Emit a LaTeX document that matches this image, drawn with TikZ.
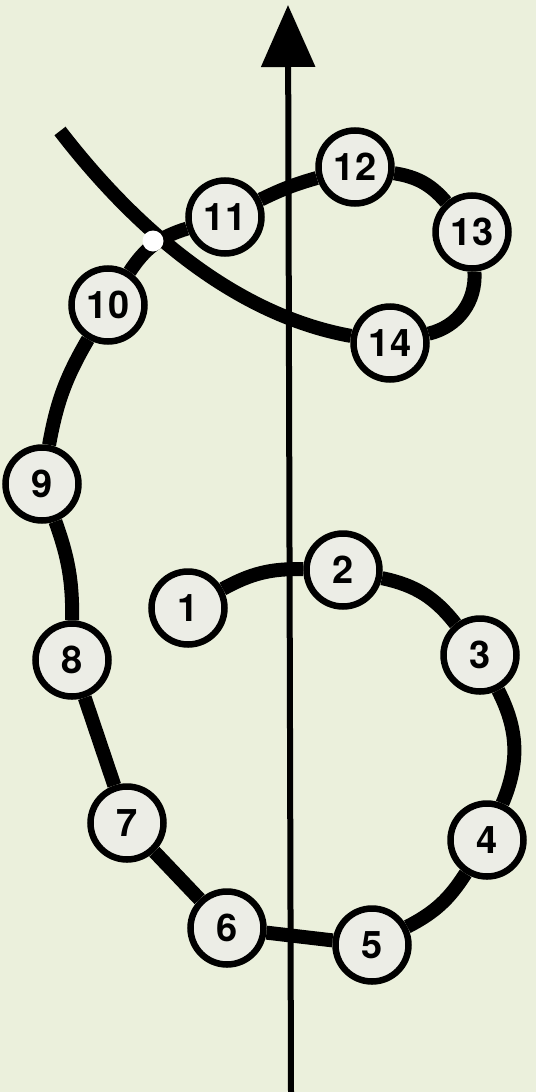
\documentclass[tikz,border=0pt]{standalone}
\usepackage{fontspec}
\setmainfont{TeX Gyre Heros}
\usetikzlibrary{arrows.meta}
\definecolor{bg}{HTML}{EBF0DC}
\definecolor{nodefill}{HTML}{ECEDE6}
\pgfdeclarelayer{bglayer}
\pgfdeclarelayer{edges}
\pgfsetlayers{bglayer,edges,main}
\begin{document}
\begin{tikzpicture}[x=1pt,y=-1pt,
  num/.style={circle,draw=black,line width=6.5pt,fill=nodefill,minimum size=73pt,inner sep=0pt,
    font=\fontsize{38}{38}\selectfont\bfseries},
  link/.style={line width=14pt},
  axisline/.style={line width=6pt,-{Triangle[length=62pt,width=53pt]}},
  gap/.style={circle,fill=white,minimum size=21pt,inner sep=0pt}]
\begin{pgfonlayer}{bglayer}
\fill[bg] (0,0) rectangle (536,1092);
\end{pgfonlayer}
\useasboundingbox (0,0) rectangle (536,1092);

\node[num] (n1) at (188,608) {1};
\node[num] (n2) at (343,570) {2};
\node[num] (n3) at (480,655) {3};
\node[num] (n4) at (487,840) {4};
\node[num] (n5) at (372,945) {5};
\node[num] (n6) at (227,928) {6};
\node[num] (n7) at (127,823) {7};
\node[num] (n8) at (72,660) {8};
\node[num] (n9) at (42,484) {9};
\node[num] (n10) at (108,305) {10};
\node[num] (n11) at (225,217) {11};
\node[num] (n12) at (355,167) {12};
\node[num] (n13) at (472,232) {13};
\node[num] (n14) at (390,343) {14};

\coordinate (tail) at (60,131);
\coordinate (axb) at (291,1092);
\coordinate (axt) at (288,5);

\begin{pgfonlayer}{edges}
\draw[link] (n1) to[bend left=15] (n2);
\draw[link] (n2) to[bend left=20] (n3);
\draw[link] (n3) to[bend left=25] (n4);
\draw[link] (n4) to[bend left=15] (n5);
\draw[link] (n5) -- (n6);
\draw[link] (n6) -- (n7);
\draw[link] (n7) -- (n8);
\draw[link] (n8) to[bend right=10] (n9);
\draw[link] (n9) to[bend left=10] (n10);
\draw[link] (n10) to[bend left=20] (n11);
\draw[link] (n11) to[bend left=5] (n12);
\draw[link] (n12) to[bend left=20] (n13);
\draw[link] (n13) to[bend left=40] (n14);
\draw[link] (n14) .. controls (230,314) and (130,222) .. (tail);
\node[gap] (cross) at (153,241) {};
\draw[axisline] (axb) -- (axt);
\end{pgfonlayer}
\end{tikzpicture}
\end{document}
